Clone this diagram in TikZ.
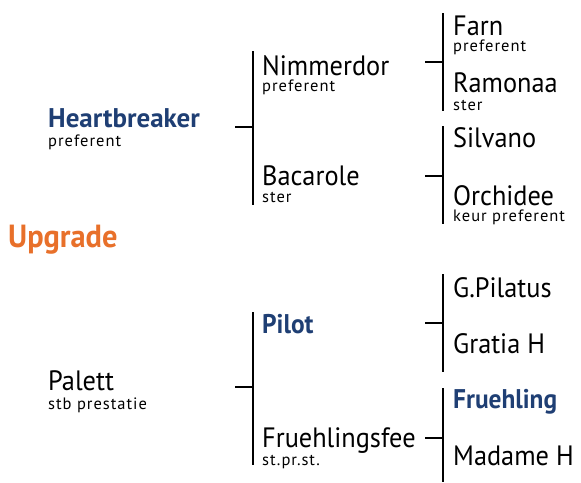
\documentclass[tikz,border=0pt]{standalone}
\usepackage{fontspec}
\setmainfont[FakeStretch=0.94]{PT Sans}
\newfontfamily\heavyfont[FakeStretch=1.0]{PT Sans}
\newfontfamily\upgradefont[FakeStretch=0.95]{PT Sans}
\newfontfamily\predfont[LetterSpace=6]{PT Sans}
\usepackage{xcolor}
\definecolor{hblue}{HTML}{1F3F74}
\definecolor{upor}{HTML}{E8702A}

\tikzset{
    horse/.style={anchor=base west, inner sep=0pt, font=\fontsize{28}{30}\selectfont},
    horsebold/.style={horse, text=hblue, font=\fontsize{27}{30}\selectfont\bfseries},
    predicate/.style={anchor=base west, inner sep=0pt, font=\predfont\fontsize{16.5}{18}\selectfont},
    bracketline/.style={line width=2.5pt}
}

\begin{document}
\begin{tikzpicture}[x=1pt,y=-1pt]
    \useasboundingbox (0,0) rectangle (581,482);
    % brackets: name/x/stub y/top/bottom
    \foreach \n/\x/\y/\t/\b in {hb/253/127/51/205, pa/253/387/312/465, ni/443/62/13/111, ba/443/176/126/224, pi/443/323/274/372, fr/443/438/388/482}
    {
        \coordinate (\n-a) at (\x-18,\y);
        \coordinate (\n-m) at (\x,\y);
        \coordinate (\n-t) at (\x,\t);
        \coordinate (\n-b) at (\x,\b);
        \draw[bracketline] (\n-a) -- (\n-m);
        \draw[bracketline] (\n-t) -- (\n-b);
    }
    % first column
    \node[horsebold, font=\heavyfont\fontsize{27}{30}\selectfont\bfseries] (heartbreaker) at (48,127) {Heartbreaker};
    \node[predicate] (heartbreaker-p) at (48,146) {preferent};
    \node[anchor=base west, inner sep=0pt, text=upor, font=\upgradefont\fontsize{32}{36}\selectfont\bfseries] (upgrade) at (8,247) {Upgrade};
    \node[horse] (palett) at (48,390) {Palett};
    \node[predicate] (palett-p) at (48,409) {stb prestatie};
    % second column
    \node[horse] (nimmerdor) at (262,75) {Nimmerdor};
    \node[predicate] (nimmerdor-p) at (262,91) {preferent};
    \node[horse] (bacarole) at (262,185) {Bacarole};
    \node[predicate] (bacarole-p) at (262,202) {ster};
    \node[horsebold] (pilot) at (262,333) {Pilot};
    \node[horse] (fruehlingsfee) at (262,447) {Fruehlingsfee};
    \node[predicate] (fruehlingsfee-p) at (262,465) {st.pr.st.};
    % third column
    \node[horse] (farn) at (453,35) {Farn};
    \node[predicate] (farn-p) at (453,51) {preferent};
    \node[horse] (ramonaa) at (453,92) {Ramonaa};
    \node[predicate] (ramonaa-p) at (453,110) {ster};
    \node[horse] (silvano) at (453,147) {Silvano};
    \node[horse] (orchidee) at (453,205) {Orchidee};
    \node[predicate] (orchidee-p) at (453,221) {keur preferent};
    \node[horse] (gpilatus) at (453,297) {G.Pilatus};
    \node[horse] (gratia) at (453,353) {Gratia H};
    \node[horsebold] (fruehling) at (453,408) {Fruehling};
    \node[horse] (madame) at (453,465) {Madame H};
\end{tikzpicture}
\end{document}
